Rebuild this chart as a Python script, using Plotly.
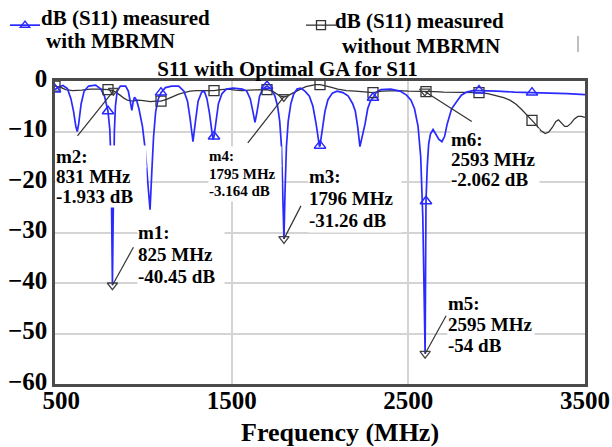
import plotly.graph_objects as go

# ---- measured |S11| with the matching network (blue) ----
freq_with = [500, 520, 545, 570, 590, 605, 618, 626, 634, 648, 665, 690, 730, 760, 780,
             800, 810, 816, 820, 825, 829, 832, 836, 842, 852, 870, 900, 915, 928, 935,
             942, 950, 962, 975, 995, 1012, 1025, 1038, 1048, 1058, 1070, 1085, 1100, 1125,
             1160, 1200, 1230, 1250, 1265, 1281, 1295, 1310, 1330, 1345, 1360, 1375, 1390,
             1395, 1400, 1412, 1425, 1445, 1470, 1510, 1560, 1585, 1605, 1620, 1632, 1644,
             1658, 1675, 1700, 1725, 1745, 1760, 1772, 1782, 1790, 1796, 1802, 1810, 1820,
             1835, 1850, 1870, 1890, 1915, 1940, 1960, 1978, 1992, 1997, 2000, 2012, 2028,
             2045, 2070, 2096, 2130, 2160, 2185, 2200, 2213, 2226, 2240, 2255, 2270, 2285,
             2300, 2320, 2345, 2400, 2453, 2490, 2515, 2535, 2555, 2570, 2582, 2590, 2595,
             2598, 2600, 2607, 2615, 2625, 2640, 2655, 2672, 2690, 2705, 2720, 2745, 2775,
             2800, 2830, 2865, 2900, 2950, 3000, 3100, 3200, 3300, 3400, 3500]
db_with = [-1.7, -1.2, -0.9, -1.5, -3.5, -6.0, -9.0, -10.0, -8.5, -4.5, -2.0, -1.0, -0.8, -1.6, -3.0,
           -6.0, -9.5, -15.0, -24.0, -40.45, -28.0, -18.0, -10.0, -5.0, -2.0, -1.0, -1.0, -2.0, -4.5, -5.8,
           -4.2, -3.2, -3.8, -5.5, -9.0, -14.0, -20.0, -25.5, -18.0, -11.0, -6.0, -3.5, -2.3, -1.3,
           -1.0, -1.0, -2.0, -4.0, -7.5, -12.0, -8.0, -4.0, -2.2, -2.0, -3.5, -6.5, -10.5,
           -11.6, -11.0, -7.5, -4.5, -2.5, -1.6, -1.4, -1.6, -2.0, -3.5, -6.0, -8.2, -6.0,
           -3.0, -1.6, -1.0, -1.6, -3.0, -5.0, -8.0, -13.0, -21.0, -31.26, -22.0, -13.0, -8.0,
           -4.5, -2.7, -1.6, -1.4, -2.0, -3.0, -5.0, -8.5, -12.0, -13.0, -12.8, -9.5, -6.0,
           -3.7, -2.4, -2.0, -2.3, -3.0, -4.5, -6.0, -9.0, -13.0, -11.0, -8.5, -5.5, -4.0,
           -3.3, -2.2, -1.7, -1.6, -2.0, -2.8, -3.8, -5.5, -9.0, -15.0, -27.0, -42.0, -54.0,
           -35.0, -23.8, -17.0, -12.5, -10.5, -9.6, -10.5, -11.5, -12.0, -11.0, -8.5, -5.5, -4.0,
           -2.8, -2.2, -1.9, -1.9, -1.9, -2.0, -2.2, -2.3, -2.3, -2.5, -2.7]

# ---- measured |S11| without the matching network (black) ----
freq_without = [500, 530, 560, 600, 650, 700, 750, 800, 831, 850, 868, 890, 910, 940, 970,
                1000, 1040, 1070, 1100, 1135, 1170, 1200, 1230, 1265, 1300, 1350, 1400, 1440,
                1480, 1520, 1560, 1600, 1650, 1700, 1730, 1755, 1775, 1795, 1815, 1840, 1865,
                1890, 1920, 1950, 1975, 2000, 2030, 2060, 2100, 2150, 2200, 2250, 2300, 2350,
                2400, 2450, 2500, 2550, 2593, 2600, 2650, 2700, 2750, 2800, 2850, 2900, 2950,
                3000, 3040, 3075, 3110, 3140, 3170, 3200, 3225, 3250, 3275, 3295, 3315, 3335,
                3350, 3365, 3385, 3400, 3420, 3440, 3460, 3480, 3500]
db_without = [-1.0, -1.2, -1.7, -1.9, -1.8, -1.6, -1.6, -1.7, -1.933, -2.3, -2.8, -3.4, -3.8, -4.0, -3.8,
              -3.9, -4.1, -4.0, -4.0, -3.6, -3.0, -2.6, -2.3, -2.0, -1.9, -1.9, -1.9, -1.7,
              -1.6, -1.8, -1.9, -1.8, -1.7, -1.7, -2.0, -2.6, -3.0, -3.164, -3.0, -2.5, -2.0,
              -1.6, -1.1, -0.8, -0.7, -0.7, -0.9, -1.2, -1.6, -1.9, -2.0, -2.2, -2.3, -2.0,
              -1.9, -1.9, -2.0, -2.0, -2.062, -2.1, -2.1, -2.2, -2.2, -2.2, -2.3, -2.3, -2.5,
              -2.9, -3.3, -3.8, -4.6, -5.6, -6.6, -7.8, -8.8, -9.8, -10.4, -10.1, -9.2, -8.0,
              -7.7, -8.2, -9.0, -9.0, -8.4, -7.5, -7.0, -7.0, -7.2]

# frequencies where the trace symbols are shown
symbol_freqs = [500, 800, 1100, 1400, 1700, 2000, 2300, 2600, 2900, 3200]

# readout markers
marker_names = ["m1", "m2", "m3", "m4", "m5", "m6"]
marker_freqs = [825, 831, 1796, 1795, 2595, 2593]
marker_dbs = [-40.45, -1.933, -31.26, -3.164, -54, -2.062]

# series captions (two lines each)
series_with = ["dB (S11) measured", "with MBRMN"]
series_without = ["dB (S11) measured", "without MBRMN"]

x_ticks = [500, 1500, 2500, 3500]
y_ticks = [0, -10, -20, -30, -40, -50, -60]

SERIF = "Liberation Serif"
BLUE = "#2a2aff"
DARK = "#333333"

# plot-area geometry in pixels (used to place text outside the axes)
PL, PR, PT, PB = 55, 585, 81, 384

# placement of each readout box relative to its marker (screen pixels):
# (dx, first-line dy, line spacing, box width, font size, leader end dx, leader end dy)
label_layout = {
    "m1": (25, -53, 22, 86, 19, 21, -38),
    "m2": (-58, 66, 20, 90, 19, -36, 45),
    "m3": (24, -62, 22, 92, 19, 17, -33),
    "m4": (-76, 60, 17.5, 72, 15, -36, 46),
    "m5": (22, -51, 21, 86, 19, 21, -38),
    "m6": (25, 48, 20, 88, 19, 47, 30),
}


def px_x(p):
    return (p - PL) / (PR - PL)


def px_y(p):
    return (PB - p) / (PB - PT)


def pick(freqs, values, wanted):
    pairs = [(f, v) for f, v in zip(freqs, values) if f in wanted]
    return [p[0] for p in pairs], [p[1] for p in pairs]


fig = go.Figure()

fig.add_trace(go.Scatter(x=freq_without, y=db_without, mode="lines",
                         line=dict(color=DARK, width=1.3), showlegend=False, hoverinfo="skip"))
fig.add_trace(go.Scatter(x=freq_with, y=db_with, mode="lines",
                         line=dict(color=BLUE, width=1.7), showlegend=False, hoverinfo="skip"))

sx, sy = pick(freq_without, db_without, symbol_freqs)
fig.add_trace(go.Scatter(x=sx, y=sy, mode="markers", showlegend=False,
                         marker=dict(symbol="square-open", size=10, color=DARK, line=dict(width=1.3))))
tx, ty = pick(freq_with, db_with, symbol_freqs)
fig.add_trace(go.Scatter(x=tx, y=ty, mode="markers", showlegend=False,
                         marker=dict(symbol="triangle-up-open", size=10, color=BLUE, line=dict(width=1.5))))

# legend keys (symbol only; captions are set as text beside them)
fig.add_trace(go.Scatter(x=[None], y=[None], mode="lines+markers", legend="legend2",
                         name="\u00a0", line=dict(color=BLUE, width=1.7),
                         marker=dict(symbol="triangle-up-open", size=8, color=BLUE, line=dict(width=1.5))))
fig.add_trace(go.Scatter(x=[None], y=[None], mode="lines+markers", legend="legend3",
                         name="\u00a0", line=dict(color=DARK, width=1.3),
                         marker=dict(symbol="square-open", size=9, color=DARK, line=dict(width=1.3))))

# readout marker symbols
fig.add_trace(go.Scatter(x=marker_freqs, y=marker_dbs, mode="markers", showlegend=False,
                         marker=dict(symbol="triangle-down-open", size=9, color="#444444",
                                     line=dict(width=1.3))))

annotations = []
shapes = []
for name, f, db in zip(marker_names, marker_freqs, marker_dbs):
    dx, dy0, step, w, fs, lx, ly = label_layout[name]
    lines = [f"{name}:", f"{f} MHz", f"{db:g} dB"]
    for i, txt in enumerate(lines):
        annotations.append(dict(
            x=f, y=db, xref="x", yref="y", text=txt, showarrow=False,
            xanchor="left", yanchor="middle", xshift=dx, yshift=-(dy0 + i * step),
            width=w, height=step + 1, align="left", valign="middle",
            bgcolor="white", borderpad=0,
            font=dict(family=SERIF, size=fs, color="black", weight="bold")))
    shapes.append(dict(type="line", xref="x", yref="y", xsizemode="pixel", ysizemode="pixel",
                       xanchor=f, yanchor=db, x0=0, y0=0, x1=lx, y1=-ly,
                       line=dict(color=DARK, width=1.2)))

# series captions: (text lines, left x of each line, centre y of each line) in pixels
captions = [
    (series_with, [39, 44], [18, 41]),
    (series_without, [333, 340], [21, 46]),
]
for lines, xs, ys in captions:
    for txt, xp, yp in zip(lines, xs, ys):
        annotations.append(dict(text=txt, xref="paper", yref="paper", x=px_x(xp), y=px_y(yp),
                                xanchor="left", yanchor="middle", showarrow=False,
                                font=dict(family=SERIF, size=21, color="black", weight="bold")))

annotations.append(dict(text="Frequency (MHz)", xref="paper", yref="paper",
                        x=px_x(340), y=px_y(432), xanchor="center", yanchor="middle",
                        showarrow=False, font=dict(family=SERIF, size=26, color="black", weight="bold")))

shapes.append(dict(type="line", xref="paper", yref="paper", x0=px_x(578), x1=px_x(578),
                   y0=px_y(36), y1=px_y(52), line=dict(color="#aaaaaa", width=1.5)))

tick_text = [str(v) for v in x_ticks]
tick_text[0] = "\u00a0\u00a0" + tick_text[0]

legend_common = dict(xref="container", yref="container", xanchor="left", yanchor="top",
                     itemwidth=30, bgcolor="rgba(0,0,0,0)",
                     font=dict(family=SERIF, size=21, color="black", weight="bold"))

fig.update_layout(
    width=612, height=447,
    margin=dict(l=PL, r=612 - PR, t=PT, b=447 - PB, autoexpand=False),
    paper_bgcolor="white", plot_bgcolor="white",
    font=dict(family=SERIF, color="black"),
    title=dict(text="S11 with Optimal GA for S11", x=287.5 / 612, xref="container", xanchor="center",
               y=1 - 68.5 / 447, yref="container", yanchor="middle",
               font=dict(family=SERIF, size=21, color="black", weight="bold")),
    legend2=dict(x=5 / 612, y=1 - 5 / 447, **legend_common),
    legend3=dict(x=301 / 612, y=1 - 5 / 447, **legend_common),
    annotations=annotations,
    shapes=shapes,
    xaxis=dict(range=[500, 3500], tickvals=x_ticks, ticktext=tick_text,
               showgrid=True, gridcolor="#d4d4d4", gridwidth=2, zeroline=False,
               showline=True, linecolor="#4a4a4a", linewidth=2.5, mirror=True, ticks="",
               ticklabelstandoff=-8,
               tickfont=dict(family=SERIF, size=25, color="black", weight="bold")),
    yaxis=dict(range=[-60, 0], tickvals=y_ticks,
               showgrid=True, gridcolor="#d4d4d4", gridwidth=2, zeroline=False,
               showline=True, linecolor="#4a4a4a", linewidth=2.5, mirror=True, ticks="",
               ticklabelshift=-3,
               tickfont=dict(family=SERIF, size=25, color="black", weight="bold")),
)

fig.write_html("out.html")
